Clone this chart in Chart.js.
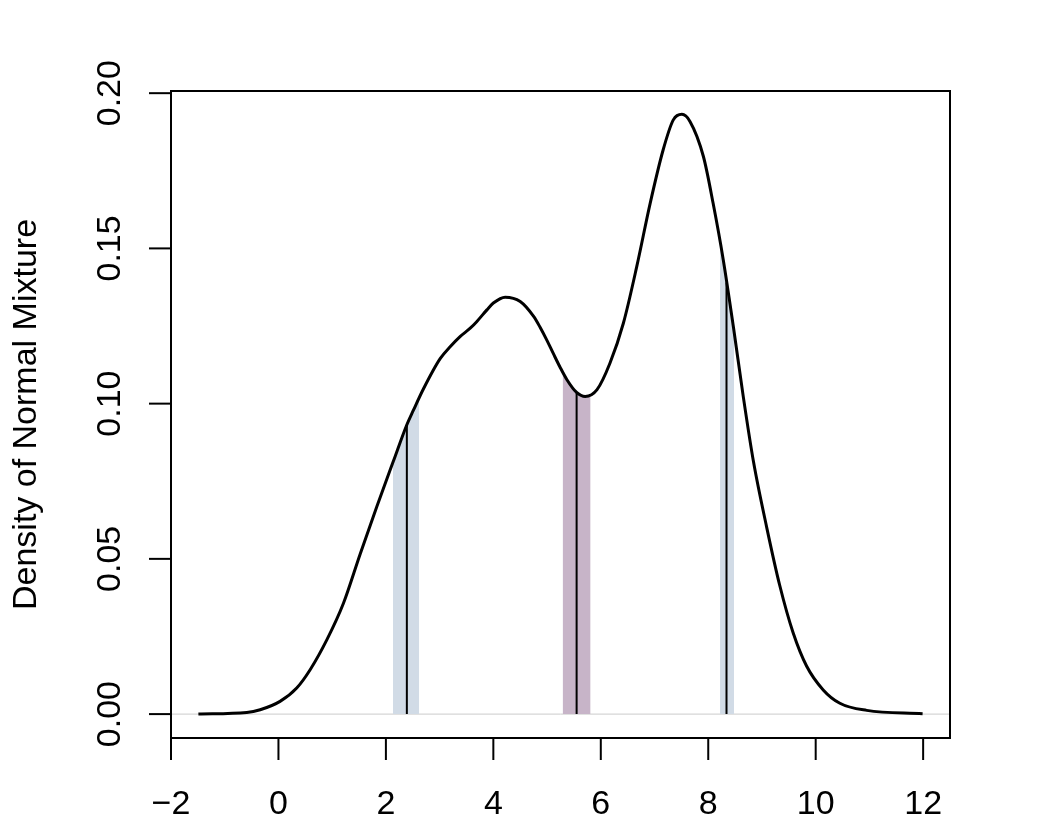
<!DOCTYPE html>
<html>
<head>
<meta charset="utf-8">
<script src="https://cdn.jsdelivr.net/npm/chart.js"></script>
<style>
  body { margin: 0; background: #fff; }
</style>
</head>
<body>
<canvas id="mixChart" width="1038" height="830"></canvas>
<script>
// density curve
const curveX = [-1.49, -0.59, -0.34, 0.03, 0.34, 0.59, 0.90, 1.21, 1.52, 1.83, 2.14, 2.39, 2.51, 2.70,
  3.01, 3.20, 3.38, 3.57, 3.69, 3.88, 4.00, 4.22, 4.50, 4.75, 4.87, 5.00, 5.12, 5.24, 5.37, 5.55, 5.71,
  5.93, 6.17, 6.42, 6.67, 6.92, 7.16, 7.35, 7.51, 7.66, 7.91, 8.09, 8.28, 8.47, 8.65, 8.84, 9.09, 9.33,
  9.58, 9.83, 10.14, 10.45, 10.95, 11.99];
const curveY = [0.0000, 0.0005, 0.0014, 0.0041, 0.0084, 0.0143, 0.0239, 0.0357, 0.0515, 0.0668, 0.0815, 0.0932, 0.0978, 0.1048,
  0.1145, 0.1184, 0.1216, 0.1243, 0.1264, 0.1302, 0.1324, 0.1343, 0.1329, 0.1281, 0.1246, 0.1203, 0.1160, 0.1118, 0.1077, 0.1036, 0.1023,
  0.1045, 0.1130, 0.1259, 0.1442, 0.1646, 0.1817, 0.1914, 0.1932, 0.1909, 0.1796, 0.1646, 0.1463, 0.1245, 0.1025, 0.0815, 0.0600, 0.0415,
  0.0262, 0.0155, 0.0078, 0.0035, 0.0012, 0.0001];

// shaded intervals under the curve
const band1X = [2.13, 2.39, 2.62];
const band1Y = [0.0810, 0.0932, 0.1015];
const band2X = [5.29, 5.37, 5.55, 5.71, 5.81];
const band2Y = [0.1094, 0.1077, 0.1036, 0.1023, 0.1028];
const band3X = [8.22, 8.34, 8.48];
const band3Y = [0.1520, 0.1390, 0.1232];

// vertical markers
const markerX = [2.39, 5.55, 8.34];
const markerTop = [0.0932, 0.1036, 0.1390];

const xTicks = [-2, 0, 2, 4, 6, 8, 10, 12];
const yTicks = [0, 0.05, 0.10, 0.15, 0.20];
const yTickLabels = ["0.00", "0.05", "0.10", "0.15", "0.20"];
const yTitle = "Density of Normal Mixture";

const FONT = "34px 'Liberation Sans', Arial, sans-serif";

function pts(xs, ys) {
  return xs.map((x, i) => ({ x: x, y: ys[i] }));
}

const datasets = [
  {
    data: pts(curveX, curveY),
    borderColor: "#000",
    borderWidth: 3,
    pointRadius: 0,
    cubicInterpolationMode: "monotone",
    fill: false,
    order: 0,
  },
];

markerX.forEach((x, i) => {
  datasets.push({
    data: [{ x: x, y: 0 }, { x: x, y: markerTop[i] }],
    borderColor: "#000",
    borderWidth: 2,
    pointRadius: 0,
    fill: false,
    order: 1,
  });
});

[[band1X, band1Y, "#d1dbe6"], [band2X, band2Y, "#c7b4c8"], [band3X, band3Y, "#d1dbe6"]].forEach((b) => {
  datasets.push({
    data: pts(b[0], b[1]),
    borderWidth: 0,
    borderColor: "rgba(0,0,0,0)",
    backgroundColor: b[2],
    pointRadius: 0,
    cubicInterpolationMode: "monotone",
    fill: "origin",
    order: 2,
  });
});

// R-style frame, ticks and labels
const baseAxes = {
  id: "baseAxes",
  beforeDatasetsDraw(chart) {
    const { ctx, chartArea, scales } = chart;
    const y0 = scales.y.getPixelForValue(0);
    ctx.save();
    ctx.strokeStyle = "#cccccc";
    ctx.lineWidth = 1;
    ctx.beginPath();
    ctx.moveTo(chartArea.left, y0);
    ctx.lineTo(chartArea.right, y0);
    ctx.stroke();
    ctx.restore();
  },
  afterDraw(chart) {
    const { ctx, chartArea, scales } = chart;
    const a = chartArea;
    ctx.save();
    ctx.strokeStyle = "#000";
    ctx.lineWidth = 2;
    ctx.strokeRect(a.left, a.top, a.right - a.left, a.bottom - a.top);

    ctx.fillStyle = "#000";
    ctx.font = FONT;

    // x axis
    ctx.textAlign = "center";
    ctx.textBaseline = "alphabetic";
    xTicks.forEach((t) => {
      const px = scales.x.getPixelForValue(t);
      ctx.beginPath();
      ctx.moveTo(px, a.bottom);
      ctx.lineTo(px, a.bottom + 22);
      ctx.stroke();
      const label = t < 0 ? "\u2212" + Math.abs(t) : String(t);
      ctx.fillText(label, px, 814);
    });

    // y axis
    yTicks.forEach((t, i) => {
      const py = scales.y.getPixelForValue(t);
      ctx.beginPath();
      ctx.moveTo(a.left, py);
      ctx.lineTo(a.left - 22, py);
      ctx.stroke();
      ctx.save();
      ctx.translate(120, py);
      ctx.rotate(-Math.PI / 2);
      ctx.fillText(yTickLabels[i], 0, 0);
      ctx.restore();
    });

    ctx.save();
    ctx.translate(36, (a.top + a.bottom) / 2);
    ctx.rotate(-Math.PI / 2);
    ctx.fillText(yTitle, 0, 0);
    ctx.restore();
    ctx.restore();
  },
};

new Chart(document.getElementById("mixChart").getContext("2d"), {
  type: "line",
  data: { datasets: datasets },
  options: {
    responsive: false,
    animation: false,
    devicePixelRatio: 1,
    layout: { padding: { left: 171, top: 91, right: 88, bottom: 92 } },
    plugins: { legend: { display: false }, tooltip: { enabled: false } },
    scales: {
      x: { type: "linear", display: false, min: -2, max: 12.5 },
      y: { type: "linear", display: false, min: -0.0077, max: 0.2007 },
    },
  },
  plugins: [baseAxes],
});
</script>
</body>
</html>
